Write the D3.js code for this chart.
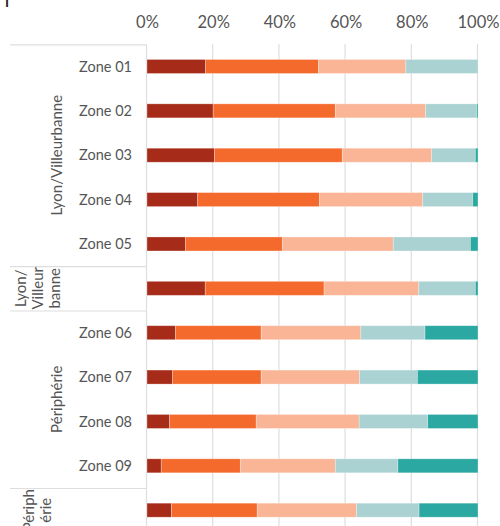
<!DOCTYPE html>
<html>
<head>
<meta charset="utf-8">
<script src="https://cdn.jsdelivr.net/npm/d3@7"></script>
<style>
  html, body { margin: 0; padding: 0; background: #fff; }
  svg { display: block; font-family: Lato, "Open Sans", sans-serif; }
</style>
</head>
<body>
<svg id="chart" width="500" height="526"></svg>
<script>
// ---- data ----
const rowLabels = ["Zone 01", "Zone 02", "Zone 03", "Zone 04", "Zone 05", "",
                   "Zone 06", "Zone 07", "Zone 08", "Zone 09", ""];
const seriesNames = ["Catégorie 1", "Catégorie 2", "Catégorie 3", "Catégorie 4", "Catégorie 5"];
const s1 = [17.7, 20.0, 20.4, 15.3, 11.6, 17.6, 8.6, 7.7, 6.8, 4.3, 7.4];
const s2 = [34.1, 36.9, 38.6, 36.8, 29.3, 35.9, 25.9, 26.8, 26.2, 23.9, 25.9];
const s3 = [26.4, 27.3, 27.0, 31.2, 33.5, 28.6, 30.1, 29.7, 31.1, 28.7, 30.0];
const s4 = [21.7, 15.4, 13.2, 15.1, 23.3, 17.1, 19.4, 17.5, 20.7, 18.9, 18.9];
const s5 = [0.1, 0.4, 0.8, 1.6, 2.3, 0.8, 16.0, 18.3, 15.2, 24.2, 17.8];
const colors = ["#a62b18", "#f46a2d", "#f9b596", "#abd2d2", "#2ba8a2"];
const tickValues = [0, 0.2, 0.4, 0.6, 0.8, 1.0];
// row groups: label lines, first row, last row
const groupLines = [["Lyon/Villeurbanne"], ["Lyon/", "Villeur", "banne"], ["Périphérie"], ["Périph", "érie"]];
const groupFirst = [0, 5, 6, 10];
const groupLast  = [4, 5, 9, 10];
const titleText = "p";

// ---- build table ----
const seriesArr = [s1, s2, s3, s4, s5];
const table = rowLabels.map((lab, i) => {
  const o = { idx: i, label: lab };
  seriesNames.forEach((n, k) => o[n] = seriesArr[k][i]);
  return o;
});

const svg = d3.select("#chart");
const x0 = 147, x1 = 478;
const plotTop = 44.3, step = 44.37, barH = 14;

const x = d3.scaleLinear().domain([0, 1]).range([x0, x1]);
const y = d3.scaleBand().domain(d3.range(rowLabels.length))
  .range([plotTop, plotTop + step * rowLabels.length]).padding(0);
const color = d3.scaleOrdinal().domain(seriesNames).range(colors);

const stack = d3.stack().keys(seriesNames).offset(d3.stackOffsetExpand);
const stacked = stack(table);

// title (mostly cropped above the frame)
svg.append("text").attr("x", 3).attr("y", -0.5)
  .attr("font-size", 38).attr("font-weight", 300).attr("fill", "#222")
  .text(titleText);

// gridlines
const gridBottom = 526;
svg.append("g").selectAll("line").data(tickValues).join("line")
  .attr("x1", d => x(d) - 0.5).attr("x2", d => x(d) - 0.5)
  .attr("y1", plotTop).attr("y2", gridBottom)
  .attr("stroke", "#dedede").attr("stroke-width", 1.2);

// top axis labels
const axis = d3.axisTop(x).tickValues(tickValues).tickFormat(d3.format(".0%")).tickSize(0).tickPadding(0);
const ag = svg.append("g").attr("transform", "translate(0,28)").call(axis);
ag.select(".domain").remove();
ag.selectAll("text").attr("font-size", 16.5).attr("fill", "#555")
  .attr("font-family", "Lato, sans-serif").attr("dy", 0);

// left panel separators
svg.append("g").selectAll("line").data(groupFirst).join("line")
  .attr("x1", 10).attr("x2", x0 - 0.5)
  .attr("y1", d => y(d) + 0.5).attr("y2", d => y(d) + 0.5)
  .attr("stroke", "#dedede").attr("stroke-width", 1.2);

// bars
const bars = svg.append("g");
stacked.forEach(layer => {
  bars.append("g").attr("fill", color(layer.key))
    .selectAll("rect").data(layer).join("rect")
    .attr("x", d => x(d[0]))
    .attr("width", d => Math.max(0, x(d[1]) - x(d[0])))
    .attr("y", (d, i) => y(i) + (y.bandwidth() - barH) / 2)
    .attr("height", barH)
    .attr("stroke", "#ffffff").attr("stroke-opacity", 0.35).attr("stroke-width", 0.8);
});

// row labels
svg.append("g").selectAll("text").data(table).join("text")
  .attr("x", 132).attr("y", d => y(d.idx) + y.bandwidth() / 2)
  .attr("dy", "0.35em").attr("text-anchor", "end")
  .attr("font-size", 14.5).attr("fill", "#555")
  .text(d => d.label);

// group labels (rotated)
const gl = svg.append("g");
groupLines.forEach((lines, g) => {
  const cy = (y(groupFirst[g]) + y(groupLast[g]) + y.bandwidth()) / 2;
  const multi = lines.length > 1;
  const cx = multi ? 37.5 : 56.5;
  const lh = 17;
  const t = gl.append("text")
    .attr("transform", `translate(${cx},${cy}) rotate(-90)`)
    .attr("text-anchor", "middle").attr("font-size", 15).attr("fill", "#555");
  lines.forEach((ln, k) => {
    t.append("tspan").attr("x", 0)
      .attr("y", (k - (lines.length - 1) / 2) * lh)
      .attr("dy", "0.35em").text(ln);
  });
});
</script>
</body>
</html>
